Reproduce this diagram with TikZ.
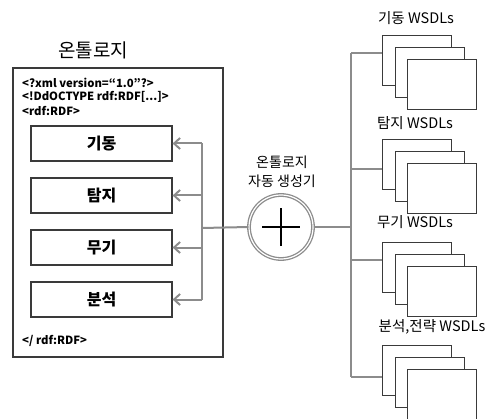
\documentclass[tikz,border=0pt]{standalone}
\usepackage{fontspec}
\setmainfont{Noto Sans CJK KR}
\usetikzlibrary{arrows.meta}
\definecolor{boxline}{HTML}{3A3A3A}
\definecolor{connc}{HTML}{8C8C8C}
\tikzset{
  outerbox/.style={draw=boxline, line width=1.2pt, inner sep=0pt},
  catbox/.style={draw=boxline, line width=1.2pt, minimum width=141pt, minimum height=35pt, inner sep=0pt, font=\fontsize{16}{18}\selectfont\bfseries},
  conn/.style={draw=connc, line width=2pt},
  connarrow/.style={conn, -{Straight Barb[length=6pt,width=11pt,line width=2pt]}},
  xmltext/.style={anchor=west, inner sep=0pt, font=\fontsize{11.3}{12}\selectfont\bfseries},
  pagebox/.style={draw=boxline, fill=white, line width=1.2pt, minimum width=69pt, minimum height=50pt, inner sep=0pt, anchor=north west},
  wlabel/.style={inner sep=0pt, font=\fontsize{14.5}{16}\selectfont},
  genring/.style={draw=connc, double=white, double distance=1.2pt, line width=1.3pt, circle, minimum size=64pt, inner sep=0pt},
  plusline/.style={draw=black, line width=2.8pt},
}
\begin{document}
\begin{tikzpicture}[x=1pt,y=-1pt]
\useasboundingbox (0,0) rectangle (494,419);
% left ontology box
\node[inner sep=0pt, font=\fontsize{19}{21}\selectfont] (title) at (93,50) {온톨로지};
\node[outerbox, minimum width=210pt, minimum height=289pt] (rdf) at (118,212.5) {};
\node[xmltext] (x1) at (22,83) {<?xml version=“1.0”?>};
\node[xmltext] (x2) at (22,97) {<!DdOCTYPE rdf:RDF[...]>};
\node[xmltext] (x3) at (22,111) {<rdf:RDF>};
\node[xmltext] (x4) at (22,341) {</ rdf:RDF>};
\node[catbox] (k1) at (101.5,143.5) {기동};
\node[catbox] (k2) at (101.5,195.5) {탐지};
\node[catbox] (k3) at (101.5,247.5) {무기};
\node[catbox] (k4) at (101.5,299.5) {분석};
% junction
\coordinate (j) at (202,228);
\draw[conn] (j |- k1) -- (j |- k4);
\foreach \k in {k1,k2,k3,k4} \draw[connarrow] (j |- \k) -- (\k.east);
% generator
\node[genring] (gen) at (281,227) {};
\node[inner sep=0pt, align=center, font=\fontsize{14}{19}\selectfont] (genlabel) at (282,172) {온톨로지\\자동 생성기};
\draw[plusline] ([xshift=-19pt]gen.center) -- ([xshift=19pt]gen.center);
\draw[plusline] ([yshift=-19pt]gen.center) -- ([yshift=19pt]gen.center);
\draw[conn] (j) -- (gen.west);
% right bus
\coordinate (r) at (351,227);
\draw[conn] (gen.east) -- (r);
\coordinate (br1) at (382,53);
\coordinate (br2) at (382,169);
\coordinate (br3) at (382,260);
\coordinate (br4) at (382,377);
\draw[conn] (r |- br1) -- (r |- br4);
\foreach \b in {br1,br2,br3,br4} \draw[conn] (r |- \b) -- (\b);
% stacks
\foreach \t/\n in {35/1,139/2,242/3,345/4} {
  \node[pagebox] (p\n a) at (382,\t) {};
  \node[pagebox] (p\n b) at (394.5,\t+12) {};
  \node[pagebox] (p\n c) at (407,\t+24) {};
}
\node[wlabel] (w1) at (416,18) {기동 WSDLs};
\node[wlabel] (w2) at (415,123) {탐지 WSDLs};
\node[wlabel] (w3) at (415,222) {무기 WSDLs};
\node[wlabel] (w4) at (432,327) {분석,전략 WSDLs};
\end{tikzpicture}
\end{document}
